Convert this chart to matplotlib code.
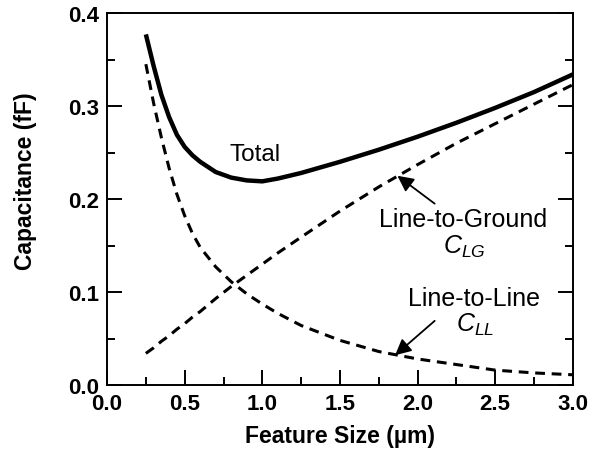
import numpy as np
import matplotlib
matplotlib.use("Agg")
import matplotlib.pyplot as plt
from matplotlib.ticker import MultipleLocator

plt.rcParams["font.family"] = ["Liberation Sans", "DejaVu Sans"]
plt.rcParams["mathtext.fontset"] = "custom"
plt.rcParams["mathtext.it"] = "Liberation Sans:italic"
plt.rcParams["mathtext.rm"] = "Liberation Sans"

# values (feature size in um, capacitance in fF)
size = [0.25, 0.3, 0.35, 0.4, 0.45, 0.5, 0.55, 0.6, 0.7, 0.8, 0.9, 1.0,
        1.1, 1.25, 1.5, 1.75, 2.0, 2.25, 2.5, 2.75, 3.0]
total = [0.377, 0.343, 0.312, 0.288, 0.269, 0.256, 0.247, 0.240, 0.229,
         0.223, 0.220, 0.219, 0.222, 0.228, 0.240, 0.253, 0.267, 0.282,
         0.298, 0.315, 0.334]
c_lg = [0.034, 0.040, 0.047, 0.053, 0.060, 0.066, 0.073, 0.079, 0.093,
        0.106, 0.118, 0.130, 0.142, 0.159, 0.187, 0.213, 0.237, 0.260,
        0.281, 0.302, 0.323]
c_ll = [0.345, 0.303, 0.266, 0.233, 0.205, 0.182, 0.163, 0.148, 0.127,
        0.111, 0.098, 0.087, 0.077, 0.064, 0.048, 0.036, 0.028, 0.022,
        0.016, 0.013, 0.011]

fig = plt.figure(figsize=(5.98, 4.52), dpi=100)
ax = fig.add_axes([0.179, 0.146, 0.779, 0.823])

ax.plot(size, total, color="black", lw=3.2, solid_capstyle="butt",
        solid_joinstyle="round")
ax.plot(size, c_lg, color="black", lw=2.2, dashes=(3.2, 2.2))
ax.plot(size, c_ll, color="black", lw=2.2, dashes=(3.2, 2.2))

ax.set_xlim(0, 3.0)
ax.set_ylim(0, 0.4)
ax.xaxis.set_major_locator(MultipleLocator(0.5))
ax.xaxis.set_minor_locator(MultipleLocator(0.25))
ax.yaxis.set_major_locator(MultipleLocator(0.1))
ax.yaxis.set_minor_locator(MultipleLocator(0.05))
ax.xaxis.set_major_formatter(lambda v, p: f"{v:.1f}")
ax.yaxis.set_major_formatter(lambda v, p: f"{v:.1f}")

ax.tick_params(which="both", direction="in", width=1.4, top=False, right=True,
               labelsize=16, pad=6)
ax.tick_params(which="major", length=11)
ax.tick_params(which="minor", length=6)
for lab in ax.get_xticklabels() + ax.get_yticklabels():
    lab.set_fontweight("bold")
for s in ax.spines.values():
    s.set_linewidth(1.4)

ax.set_xlabel("Feature Size (µm)", fontsize=16.5, fontweight="bold")
ax.set_ylabel("Capacitance (fF)", fontsize=16.5, fontweight="bold")
ax.xaxis.set_label_coords(0.5, -0.105)
ax.yaxis.set_label_coords(-0.15, 0.55)

ax.text(0.953, 0.248, "Total", fontsize=17.5, ha="center", va="center")

# Line-to-Ground label and arrow
ax.text(2.29, 0.179, "Line-to-Ground", fontsize=18, ha="center", va="center")
ax.text(2.30, 0.150, "$C_{LG}$", fontsize=18, ha="center", va="center")
ax.annotate("", xy=(1.87, 0.225), xytext=(2.11, 0.195),
            arrowprops=dict(arrowstyle="-|>", color="black", lw=1.3,
                            mutation_scale=24, shrinkA=0, shrinkB=0))

# Line-to-Line label and arrow
ax.text(2.36, 0.094, "Line-to-Line", fontsize=18, ha="center", va="center")
ax.text(2.37, 0.066, "$C_{LL}$", fontsize=18, ha="center", va="center")
ax.annotate("", xy=(1.855, 0.032), xytext=(2.11, 0.069),
            arrowprops=dict(arrowstyle="-|>", color="black", lw=1.3,
                            mutation_scale=24, shrinkA=0, shrinkB=0))

fig.savefig("out.png", dpi=100)
